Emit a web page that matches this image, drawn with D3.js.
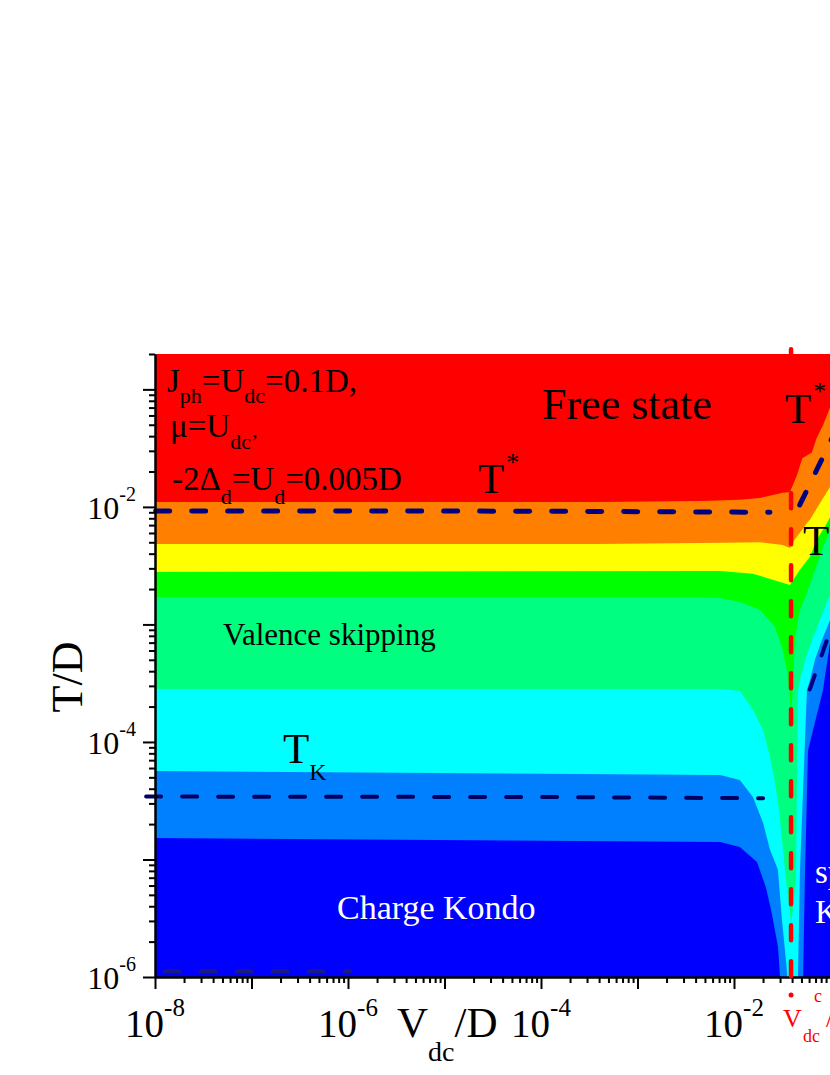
<!DOCTYPE html>
<html>
<head>
<meta charset="utf-8">
<script src="https://cdn.jsdelivr.net/npm/d3@7"></script>
<style>
  body { margin: 0; background: #fff; }
  text { font-family: "Liberation Serif", "Times New Roman", serif; }
</style>
</head>
<body>
<div id="chart"></div>
<script>
// band boundaries [V/D, T/D]; the band colour fills everything above the curve
const azureTop = [[1e-8, 1.52e-5], [0.0072, 1.41e-5], [0.0115, 1.28e-5], [0.0173, 9.5e-6], [0.0214, 5.8e-6], [0.0246, 3.5e-6], [0.0286, 1.8e-6], [0.03, 1e-6], [0.039, 2.5e-7], [0.052, 1e-6], [0.0545, 8.2e-6], [0.0585, 8.5e-5], [0.0836, 2.77e-4], [0.0897, 4.1e-4], [0.099, 7e-4], [0.2, 0.003], [1, 1]];
const cyanTop = [[1e-8, 5.66e-5], [0.0072, 5.24e-5], [0.0115, 4.75e-5], [0.0157, 3.4e-5], [0.02, 2.05e-5], [0.0236, 1.21e-5], [0.0285, 8.2e-6], [0.0314, 3.05e-6], [0.0345, 1.4e-6], [0.0363, 8.5e-7], [0.039, 5e-7], [0.046, 1e-6], [0.0483, 8.2e-6], [0.057, 2.77e-4], [0.0614, 3.37e-4], [0.069, 5e-4], [0.0817, 7.4e-4], [0.099, 1.09e-3], [0.2, 0.004], [1, 1]];
const springTop = [[1e-8, 2.82e-4], [0.0072, 2.82e-4], [0.0115, 2.72e-4], [0.0157, 1.87e-4], [0.02, 1.26e-4], [0.0236, 7.5e-5], [0.0266, 4.5e-5], [0.0292, 2.65e-5], [0.0314, 1.47e-5], [0.0337, 8.2e-6], [0.039, 2.9e-6], [0.0419, 4.5e-6], [0.0439, 8.2e-6], [0.046, 2.77e-4], [0.0483, 3.37e-4], [0.0545, 5e-4], [0.0643, 7.4e-4], [0.0778, 1.09e-3], [0.0942, 1.62e-3], [0.2, 0.006], [1, 1]];
const greenTop = [[1e-8, 0.00171], [0.0045, 0.00171], [0.0072, 0.00168], [0.0115, 0.00155], [0.0186, 0.00133], [0.0266, 9.5e-4], [0.0314, 6.4e-4], [0.0354, 4.1e-4], [0.038, 2.3e-4], [0.039, 1.5e-4], [0.0429, 7.4e-4], [0.046, 1.09e-3], [0.0483, 1.33e-3], [0.0585, 1.97e-3], [0.069, 2.91e-3], [0.0817, 4.31e-3], [0.099, 6.4e-3], [0.2, 0.02], [1, 1]];
const yellowTop = [[1e-8, 0.0028], [0.0045, 0.00285], [0.0072, 0.00285], [0.0157, 0.0027], [0.038, 0.00217], [0.048, 0.0029], [0.061, 0.00375], [0.072, 0.0052], [0.092, 0.0073], [0.2, 0.025], [1, 1]];
const orangeTop = [[1e-8, 0.00484], [4e-4, 0.00484], [0.0045, 0.00494], [0.0186, 0.005], [0.032, 0.00475], [0.038, 0.00448], [0.042, 0.0052], [0.048, 0.006], [0.057, 0.0073], [0.0614, 0.0078], [0.078, 0.0108], [0.099, 0.0148], [0.2, 0.04], [1, 1]];
const redTop = [[1e-8, 0.011], [4e-4, 0.011], [0.0045, 0.0112], [0.0115, 0.0115], [0.0186, 0.0119], [0.032, 0.0132], [0.038, 0.0134], [0.045, 0.0187], [0.051, 0.026], [0.064, 0.029], [0.072, 0.0386], [0.084, 0.05], [0.099, 0.07], [0.14, 0.147], [0.2, 0.3], [1, 1]];

// crossover scales (dashed)
const tStarLeft = [[8.3e-9, 0.00924], [1e-4, 0.0092], [0.0236, 0.009]];
const tStarRight = [[0.048, 0.0104], [0.1, 0.036], [0.2, 0.13]];
const tKLeft = [[7.9e-9, 3.43e-5], [1e-4, 3.4e-5], [0.02, 3.32e-5]];
const tKRight = [[0.061, 2.8e-4], [0.1, 9e-4], [0.2, 0.0052]];
const tBottom = [[1.2e-8, 1.12e-6], [1.05e-6, 1.12e-6]];
const vcLine = [[0.039, 0.22], [0.039, 1e-6]];

const xMajor = [1e-8, 1e-7, 1e-6, 1e-5, 1e-4, 1e-3, 1e-2, 1e-1, 1];
const yMajor = [1e-6, 1e-5, 1e-4, 1e-3, 1e-2, 1e-1];
const xTickLabels = [-8, -6, -4, -2];
const yTickLabels = [-2, -4, -6];

const bands = [
  { points: azureTop, color: "#0080ff" },
  { points: cyanTop, color: "#00ffff" },
  { points: springTop, color: "#00ff80" },
  { points: greenTop, color: "#00ff00" },
  { points: yellowTop, color: "#ffff00" },
  { points: orangeTop, color: "#ff8000" },
  { points: redTop, color: "#ff0000" }
];

const margin = { top: 354, left: 155 };
const width = 772;
const height = 623;

const svg = d3
  .select("#chart")
  .append("svg")
  .attr("width", 830)
  .attr("height", 1075);

const g = svg
  .append("g")
  .attr("transform", `translate(${margin.left}, ${margin.top})`);

const x = d3.scaleLog().domain([1e-8, 1]).range([0, width]);
const y = d3.scaleLog().domain([1e-6, 0.2]).range([height, 0]);

g.append("clipPath")
  .attr("id", "plot")
  .append("rect")
  .attr("width", width)
  .attr("height", height);

const plot = g.append("g").attr("clip-path", "url(#plot)");
plot
  .append("rect")
  .attr("width", width)
  .attr("height", height)
  .style("fill", "#0000ff");

const area = d3
  .area()
  .x(d => x(d[0]))
  .y0(0)
  .y1(d => y(d[1]));

bands.forEach(b => {
  plot.append("path").datum(b.points).attr("d", area).style("fill", b.color);
});

const line = d3
  .line()
  .x(d => x(d[0]))
  .y(d => y(d[1]));

const dashed = (data, color, w, dash, offset) =>
  g
    .append("path")
    .datum(data)
    .attr("d", line)
    .style("fill", "none")
    .style("stroke", color)
    .style("stroke-width", w)
    .style("stroke-linecap", "round")
    .style("stroke-dasharray", dash)
    .style("stroke-dashoffset", offset);

dashed(tStarLeft, "#000080", 5, "14 22", 27.5);
dashed(tStarRight, "#000080", 5, "14 22", 0);
dashed(tKLeft, "#00005e", 4, "15 21", 35);
dashed(tKRight, "#000080", 4, "15 21", 0);
dashed(tBottom, "#1a1a80", 4, "15 21", 34);

// axes
const isMajor = v => Math.abs(Math.log10(v) - Math.round(Math.log10(v))) < 1e-6;
const xMinor = x.ticks().filter(v => !isMajor(v));
const yMinor = y.ticks().filter(v => !isMajor(v));

const styleAxis = sel => {
  sel.selectAll("path, line").style("stroke", "#000").style("stroke-width", 2);
};

g.append("g")
  .attr("transform", `translate(0, ${height})`)
  .call(d3.axisBottom(x).tickValues(xMinor).tickSize(6).tickSizeOuter(0).tickFormat(""))
  .call(styleAxis);
g.append("g")
  .attr("transform", `translate(0, ${height})`)
  .call(d3.axisBottom(x).tickValues(xMajor).tickSize(12).tickSizeOuter(0).tickFormat(""))
  .call(styleAxis);
g.append("g")
  .call(d3.axisLeft(y).tickValues(yMinor).tickSize(6).tickSizeOuter(0).tickFormat(""))
  .call(styleAxis);
g.append("g")
  .call(d3.axisLeft(y).tickValues(yMajor).tickSize(12).tickSizeOuter(0).tickFormat(""))
  .call(styleAxis);

// red critical voltage line
dashed(vcLine, "#ff0000", 4.5, "15 21", 0);
g.append("circle")
  .attr("cx", x(vcLine[0][0]))
  .attr("cy", height + 18)
  .attr("r", 2.5)
  .style("fill", "#ff0000");

// text with sub/superscripts
const rich = (px, py, parts, o) => {
  const t = svg
    .append("text")
    .attr("x", px)
    .attr("y", py)
    .attr("text-anchor", o.anchor || "start")
    .style("font-size", o.size + "px")
    .style("fill", o.fill || "#000");
  if (o.rotate) t.attr("transform", `rotate(${o.rotate}, ${px}, ${py})`);
  let shift = 0;
  parts.forEach(([s, kind, dx]) => {
    const target = kind === "sub" ? o.sub : kind === "sup" ? -o.sup : 0;
    const span = t
      .append("tspan")
      .attr("dy", target - shift)
      .style("font-size", (kind ? o.small : o.size) + "px")
      .text(s);
    if (dx) span.attr("dx", dx);
    shift = target;
  });
  return t;
};

xTickLabels.forEach(e => {
  rich(margin.left + x(Math.pow(10, e)), 1037, [["10"], ["-" + Math.abs(e), "sup"]],
    { size: 39, small: 25, sup: 21, anchor: "middle" });
});
yTickLabels.forEach(e => {
  rich(136, margin.top + y(Math.pow(10, e)) + 12, [["10"], ["-" + Math.abs(e), "sup"]],
    { size: 32, small: 20, sup: 18, anchor: "end" });
});

rich(397, 1037, [["V"], ["dc", "sub"], ["/D"]], { size: 43, small: 28, sub: 24 });
rich(82, 677, [["T/D"]], { size: 44, anchor: "middle", rotate: -90 });

rich(167, 392, [["J"], ["ph", "sub"], ["=U"], ["dc", "sub"], ["=0.1D,"]], { size: 33, small: 22, sub: 11 });
rich(170, 437, [["\u03bc=U"], ["dc\u2019", "sub"]], { size: 33, small: 22, sub: 12 });
rich(172, 490, [["-2\u0394"], ["d", "sub"], ["=U"], ["d", "sub"], ["=0.005D"]], { size: 33, small: 22, sub: 14 });

rich(542, 419, [["Free state"]], { size: 44 });
rich(478, 493, [["T"], ["*", "sup", 2]], { size: 43, small: 26, sup: 22 });
rich(785, 423, [["T"], ["*", "sup", 2]], { size: 43, small: 26, sup: 23 });
rich(283, 763, [["T"], ["K", "sub"]], { size: 43, small: 24, sub: 17 });
rich(803, 555, [["T"], ["K", "sub"]], { size: 43, small: 24, sub: 17 });
rich(223, 645, [["Valence skipping"]], { size: 31 });
rich(337, 919, [["Charge Kondo"]], { size: 34, fill: "#fff" });
rich(815, 883, [["spin"]], { size: 33, fill: "#fff" });
rich(815, 923, [["Kondo"]], { size: 33, fill: "#fff" });

// V_dc^c label under the red line
const vc = svg.append("text").style("fill", "#ff0000");
vc.append("tspan").attr("x", 783).attr("y", 1027).style("font-size", "26px").text("V");
vc.append("tspan").attr("x", 803).attr("y", 1042).style("font-size", "18px").text("dc");
vc.append("tspan").attr("x", 814).attr("y", 1002).style("font-size", "18px").text("c");
vc.append("tspan").attr("x", 826).attr("y", 1027).style("font-size", "26px").text("/D");
</script>
</body>
</html>
